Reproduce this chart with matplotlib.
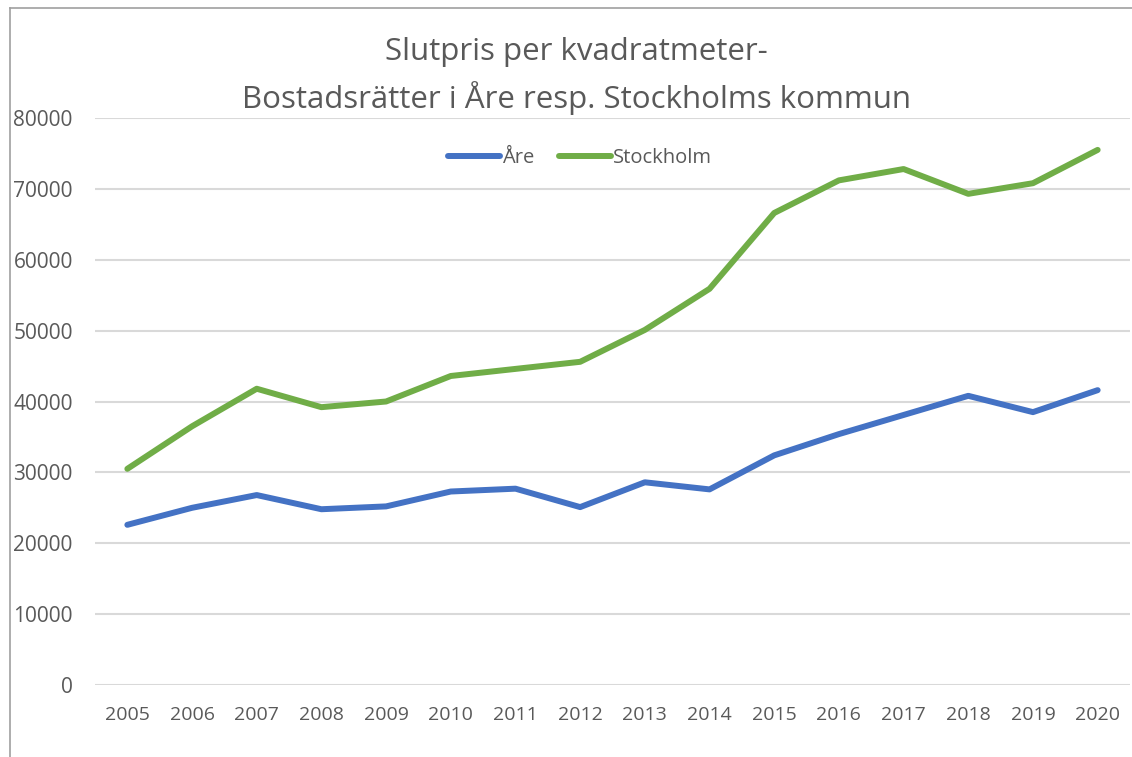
import matplotlib
matplotlib.use("Agg")
import matplotlib.pyplot as plt
from matplotlib.lines import Line2D

plt.rcParams['font.family'] = ['Open Sans', 'DejaVu Sans']

years = [str(y) for y in range(2005, 2021)]
are = [22600, 25000, 26800, 24800, 25200, 27300, 27700, 25100,
       28600, 27600, 32400, 35400, 38100, 40800, 38500, 41600]
stockholm = [30500, 36500, 41800, 39200, 40000, 43600, 44600, 45600,
             50100, 55900, 66600, 71200, 72800, 69300, 70800, 75500]

text_col = '#595959'
grid_col = '#D9D9D9'

fig = plt.figure(figsize=(11.32, 7.57), dpi=100)
ax = fig.add_axes([95 / 1132, 1 - 685 / 757, 1035 / 1132, (685 - 118) / 757])

x = range(len(years))
ax.plot(x, are, color='#4472C4', lw=4.3, solid_capstyle='round', label='Åre')
ax.plot(x, stockholm, color='#70AD47', lw=4.3, solid_capstyle='round', label='Stockholm')

ax.set_xlim(-0.5, len(years) - 0.5)
ax.set_ylim(0, 80000)
ax.set_yticks(range(0, 80001, 10000))
ax.set_xticks(list(x))
ax.set_xticklabels(years)
ax.grid(axis='y', color=grid_col, lw=1.5)
ax.set_axisbelow(True)
for s in ax.spines.values():
    s.set_visible(False)
ax.tick_params(axis='both', length=0, labelsize=14, colors=text_col)
ax.tick_params(axis='y', labelsize=15, pad=16)
ax.tick_params(axis='x', pad=15)

fig.text(576 / 1132, 1 - 52 / 757, 'Slutpris per kvadratmeter-', ha='center', va='center',
         fontsize=22.5, color=text_col)
fig.text(576 / 1132, 1 - 98 / 757, 'Bostadsrätter i Åre resp. Stockholms kommun', ha='center',
         va='center', fontsize=22.5, color=text_col)

leg = ax.legend(loc='center', bbox_to_anchor=(580 / 1132, 1 - 158 / 757),
                bbox_transform=fig.transFigure, ncol=2, frameon=False,
                fontsize=14.5, handlelength=2.6, handletextpad=0.1, columnspacing=1.2)
for t in leg.get_texts():
    t.set_color(text_col)

# outer frame (top and left edge like the screenshot)
fig.add_artist(Line2D([10 / 1132, 1], [1 - 8 / 757, 1 - 8 / 757], color='#A0A0A0', lw=1.2))
fig.add_artist(Line2D([10 / 1132, 10 / 1132], [0, 1 - 8 / 757], color='#A0A0A0', lw=1.2))

fig.savefig('out.png', dpi=100, facecolor='white')
